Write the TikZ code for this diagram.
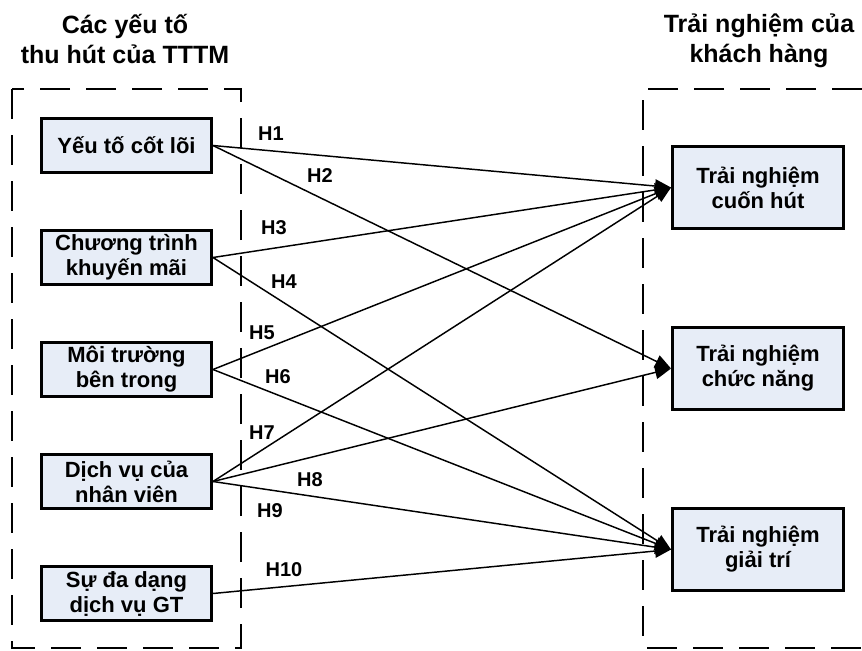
\documentclass[tikz,border=0pt]{standalone}
\usepackage{fontspec}
\setmainfont{Liberation Sans}
\usetikzlibrary{positioning,arrows.meta}
\definecolor{boxfill}{RGB}{231,237,247}

\begin{document}
\begin{tikzpicture}[x=0.75pt, y=-0.75pt, node distance=84pt,
    factor/.style={rectangle, draw, line width=2.2pt, fill=boxfill, minimum width=127.5pt, minimum height=40.5pt, inner sep=0pt, align=center, font=\bfseries\fontsize{16.5}{18.75}\selectfont},
    outcome/.style={factor, minimum width=128.25pt, minimum height=61.5pt},
    heading/.style={anchor=base, align=center, font=\bfseries\fontsize{18.75}{22.5}\selectfont},
    group/.style={line width=1.1pt, dash pattern=on 22.5pt off 12pt},
    hyp/.style={font=\bfseries\fontsize{15}{15}\selectfont},
    link/.style={-{Triangle[length=12pt,width=10pt]}, line width=1.1pt}]

\useasboundingbox (0,0) rectangle (862,650);

% Headings
\node[heading] (leftTitle) at (125,63) {Các yếu tố\\thu hút của TTTM};
\node[heading] (rightTitle) at (759,62) {Trải nghiệm của\\khách hàng};

% Dashed groups
\draw[group] (12,89) rectangle (241,648);
\draw[group] (862,89) -- (643,89) -- (643,648) -- (862,648);

% Attraction factors
\node[factor] (core) at (126.5,145.5) {Yếu tố cốt lõi};
\node[factor, below of=core] (promo) {Chương trình\\khuyến mãi};
\node[factor, below of=promo] (ambience) {Môi trường\\bên trong};
\node[factor, below of=ambience] (staff) {Dịch vụ của\\nhân viên};
\node[factor, below of=staff] (variety) {Sự đa dạng\\dịch vụ GT};

% Customer experience
\node[outcome] (engage) at (758,187.5) {Trải nghiệm\\cuốn hút};
\node[outcome, below of=engage, node distance=135.75pt] (function) {Trải nghiệm\\chức năng};
\node[outcome, below of=function, node distance=135.75pt] (leisure) {Trải nghiệm\\giải trí};

% Hypotheses
\draw[link] (core.east) -- (engage.west);
\draw[link] (core.east) -- (function.west);
\draw[link] (promo.east) -- (engage.west);
\draw[link] (promo.east) -- (leisure.west);
\draw[link] (ambience.east) -- (engage.west);
\draw[link] (ambience.east) -- (leisure.west);
\draw[link] (staff.east) -- (engage.west);
\draw[link] (staff.east) -- (function.west);
\draw[link] (staff.east) -- (leisure.west);
\draw[link] (variety.east) -- (leisure.west);

\node[hyp] (h1) at (271,134) {H1};
\node[hyp] (h2) at (320,176) {H2};
\node[hyp] (h3) at (274,228) {H3};
\node[hyp] (h4) at (284,282) {H4};
\node[hyp] (h5) at (262,333) {H5};
\node[hyp] (h6) at (278,377) {H6};
\node[hyp] (h7) at (262,433) {H7};
\node[hyp] (h8) at (310,480) {H8};
\node[hyp] (h9) at (270,511) {H9};
\node[hyp] (h10) at (284,570) {H10};

\end{tikzpicture}
\end{document}
